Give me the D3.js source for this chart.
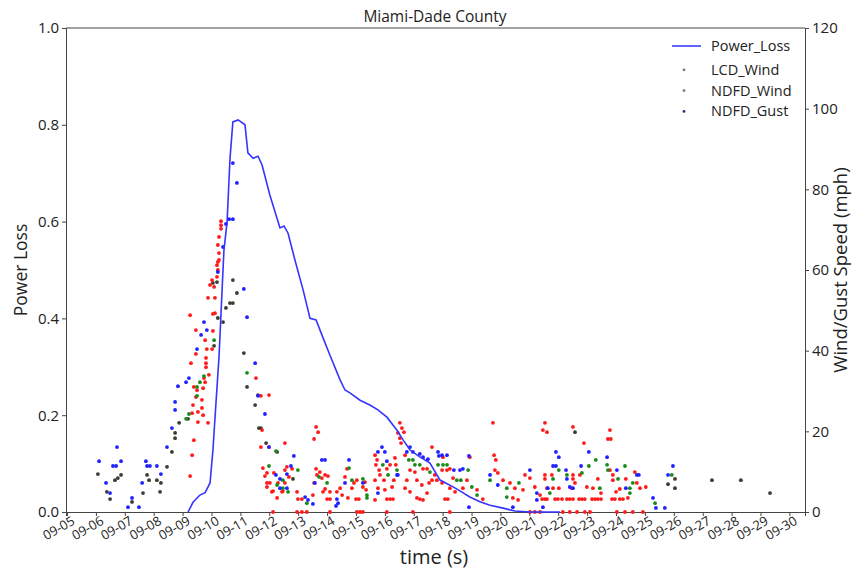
<!DOCTYPE html>
<html>
<head>
<meta charset="utf-8">
<script src="https://cdn.jsdelivr.net/npm/d3@7"></script>
<style>
  body { margin: 0; background: #fff; }
  text { font-family: "Open Sans", "DejaVu Sans", sans-serif; fill: #222; }
</style>
</head>
<body>
<div class="canvas"></div>
<script>
// time values are day-of-September 2017 (fractional), speeds in mph

// power loss curve
const lossTime = [4.19, 4.36, 4.60, 4.78, 4.95, 5.05, 5.16, 5.26, 5.36, 5.43, 5.54, 5.64, 5.74, 5.92, 6.16, 6.26, 6.44, 6.61, 6.75, 7.02, 7.37, 7.51, 7.65, 7.89, 8.17, 8.41, 8.62, 8.82, 9.10, 9.45, 9.62, 9.79, 10.14, 10.48, 10.76, 11.07, 11.42, 11.63, 11.87, 12.21, 12.56, 12.91, 13.36, 13.67, 13.94, 14.29, 14.64, 15.09, 15.50, 16.02, 17.06]
  .map(d => d + 5);
const lossValue = [0, 0.02, 0.035, 0.04, 0.06, 0.128, 0.23, 0.32, 0.45, 0.54, 0.60, 0.73, 0.806, 0.81, 0.80, 0.742, 0.731, 0.735, 0.717, 0.655, 0.587, 0.591, 0.576, 0.52, 0.459, 0.40, 0.397, 0.366, 0.324, 0.273, 0.252, 0.246, 0.231, 0.221, 0.211, 0.196, 0.169, 0.149, 0.128, 0.114, 0.101, 0.066, 0.052, 0.041, 0.031, 0.021, 0.014, 0.008, 0.002, 0, 0];

// LCD wind (hourly)
const lcdWind = [
  [9.29,36.9],[9.26,48.8],[9.26,8.9],[9.33,14.1],[9.39,17.8],[9.46,45.1],[9.46,39.2],[9.78,42.6],[9.84,40.4],[10.02,40.4],
  [10.05,44.9],[10.12,49.3],[9.81,38.2],[9.81,36.9],[9.81,35.9],[9.91,34.0],[9.74,33.2],[9.39,31.0],[9.50,30.2],[9.46,28.5],
  [9.78,32.2],[9.71,30.7],[9.36,26.5],[9.33,24.5],[9.53,24.8],[9.67,25.8],[9.71,24.0],[9.53,22.3],[9.88,22.1],[9.67,27.8],
  [10.09,55.8],[10.19,58.3],[10.22,60.0],[10.19,61.2],[10.26,62.5],[10.26,64.2],[9.95,56.3],[10.02,57.5],[10.12,53.1],[10.05,49.1],
  [9.88,53.1],[10.33,72.1],[10.33,71.1],[10.33,70.2],[10.26,68.2],[10.22,66.2],[10.22,62.0],
  [11.54,33.2],[11.71,28.8],[11.71,16.1],[11.99,16.1],[12.54,17.1],[11.99,29.0],[11.75,20.3],[11.78,10.9],[11.92,9.7],[12.16,9.7],
  [12.54,10.4],[12.61,11.2],[11.92,7.2],[12.02,7.2],[12.30,7.2],[12.13,5.2],[12.47,5.2],[12.27,3.5],[12.68,8.7],[11.85,8.9],
  [12.79,10.7],[12.54,7.2],[11.92,6.2],[12.09,5.0],[12.44,5.0],[12.96,5.0],[12.99,3.2],[13.13,3.2],
  [13.62,21.1],[13.69,19.8],[13.55,18.1],[13.62,10.7],[13.75,9.9],[13.65,9.2],[13.82,8.4],[13.93,9.2],[14.03,8.9],[13.55,7.2],
  [13.93,5.7],[13.86,5.0],[14.10,5.0],[13.51,4.2],[14.00,3.2],[14.10,3.2],[14.45,5.9],[14.34,5.0],[14.52,4.2],[14.62,8.7],
  [14.69,10.7],[14.93,7.2],[14.86,5.9],[14.72,3.5],[15.00,3.2],[15.10,3.2],[15.31,7.4],[15.24,6.2],[15.35,5.5],[15.03,7.9],
  [15.66,14.1],[15.73,12.9],[15.69,11.7],[15.80,10.4],[15.83,9.2],[15.66,7.9],[15.97,7.9],[16.07,10.7],[16.18,11.7],[16.35,13.4],
  [16.38,11.7],[16.31,7.9],[16.25,6.2],[16.00,5.5],[15.76,5.9],[16.07,3.2],[16.18,3.2],[16.28,3.2],[15.66,3.0],
  [16.52,22.1],[16.59,20.8],[16.66,19.8],[16.45,19.6],[16.52,18.3],[16.56,17.1],[16.70,14.1],[16.87,10.4],[17.04,9.9],[17.32,10.7],
  [17.46,10.7],[16.76,7.9],[17.11,7.9],[17.63,7.9],[16.70,5.9],[16.87,5.0],[17.28,6.7],[17.53,7.2],[17.46,4.7],[17.11,3.5],
  [17.21,3.2],[17.32,3.0],[17.73,9.2],[17.63,16.1],[18.01,13.6],[17.98,10.4],[18.15,10.4],[18.25,10.7],[17.80,7.9],[17.98,7.2],
  [18.36,8.4],[18.25,5.9],[18.43,5.0],[18.08,3.2],[18.18,3.2],[18.94,13.6],[18.84,7.9],[19.19,5.5],[19.39,3.2],[18.70,5.9],
  [19.74,22.1],[19.78,14.1],[19.84,12.9],[19.81,10.4],[19.91,9.7],[20.09,7.9],[20.33,7.2],[20.50,5.9],[20.78,5.5],[21.02,8.4],
  [20.85,9.2],[21.19,6.2],[21.37,4.2],[21.54,3.2],[21.47,20.3],[21.54,22.1],[21.61,19.8],[20.43,3.5],[20.61,3.0],
  [22.51,21.1],[23.79,20.3],[23.72,18.1],[23.82,18.1],[22.89,17.1],[23.79,10.4],[23.89,9.2],[24.65,9.9],[21.54,9.2],[21.78,9.2],
  [21.54,8.2],[22.51,9.2],[22.51,8.2],[22.75,9.2],[22.58,7.2],[22.47,5.9],[22.99,6.2],[23.20,5.9],[23.37,8.2],[23.89,7.9],
  [24.34,8.2],[24.72,7.2],[24.83,5.9],[25.03,6.2],[24.13,5.7],[24.00,5.0],[23.48,4.7],[24.41,3.5],[22.02,5.9],[21.82,5.9],[21.61,5.9],
  [21.44,3.2],[21.61,3.2],[21.89,3.2],[21.99,3.2],[22.13,3.2],[22.30,3.2],[22.40,3.2],[22.51,3.2],[22.72,3.2],[22.82,3.2],
  [22.92,3.2],[23.17,3.2],[23.27,3.2],[23.37,3.2],[23.48,3.2],[23.86,3.2],[23.96,3.2],[24.13,3.2],[24.24,3.2],
  [12.13,0],[12.96,0],[13.13,0],[13.30,0],[14.10,0],[15.03,0],[15.14,0],[15.24,0],[16.07,0],[16.97,0],[18.25,0],[21.02,0],
  [21.19,0],[21.37,0],[22.16,0],[22.40,0],[22.65,0],[22.92,0],[23.10,0],[24.03,0],[24.31,0],[24.58,0],[24.93,0]
];

// NDFD wind forecast
const ndfdWind = [
  [9.12,23.1],[9.22,24.3],[9.50,31.0],[9.60,32.2],[9.74,33.7],[9.50,28.8],[10.09,42.6],[11.23,34.5],[12.23,15.1],[11.99,11.4],
  [12.99,10.4],[12.47,5.9],[12.65,5.0],[13.30,2.2],[12.27,6.7],[12.47,7.9],[13.72,8.7],[14.00,7.2],[14.76,10.9],[14.86,7.9],
  [15.24,8.2],[15.38,4.2],[15.38,3.5],[15.93,11.7],[16.11,9.2],[16.42,10.4],[16.83,12.9],[16.97,12.9],[17.04,11.7],[17.21,11.7],
  [17.56,9.9],[17.84,11.7],[18.01,11.7],[18.15,11.7],[18.49,7.9],[18.63,7.9],[18.88,10.4],[19.01,6.2],[19.19,4.2],[19.64,7.9],
  [20.22,5.9],[20.64,7.2],[20.22,3.7],[22.02,10.4],[23.30,12.9],[23.06,11.4],[23.69,11.7],[23.72,10.4],[24.31,11.4],[24.07,8.2],
  [21.82,8.2],[22.30,9.2],[22.82,9.7],[23.44,5.9],[24.48,5.9],[24.58,7.2],[24.48,4.7],[21.71,4.7],[25.35,2.2],[25.93,9.2]
];

// NDFD gust forecast
const ndfdGust = [
  [6.73,16.1],[6.11,12.6],[6.59,11.4],[6.70,11.4],[6.87,12.6],[6.35,7.2],[6.49,4.7],[7.25,3.5],[7.11,1.2],[7.49,1.2],
  [7.73,12.6],[7.77,11.4],[7.87,11.4],[8.11,11.4],[7.60,7.2],[8.25,9.4],[8.46,16.1],[8.63,20.8],[8.74,25.3],[8.74,27.3],
  [8.84,31.2],[9.12,32.2],[9.22,33.2],[9.50,40.4],[9.74,47.1],[9.84,45.1],[9.64,43.9],[10.22,59.5],[10.40,65.7],[10.50,71.4],
  [10.61,72.6],[10.74,72.6],[10.74,86.5],[10.88,81.6],[11.12,55.3],[11.23,48.3],[11.51,36.9],[11.61,28.8],[11.85,24.3],[12.23,9.2],
  [12.37,5.9],[12.61,5.9],[11.99,16.1],[12.85,13.9],[12.75,11.4],[12.61,9.4],[12.37,8.2],[13.24,3.7],[13.34,3.0],[13.51,2.0],
  [13.82,12.9],[13.93,12.9],[13.58,7.2],[14.34,3.2],[14.38,2.2],[14.31,1.5],[14.76,12.9],[14.62,7.2],[15.24,7.2],[15.76,14.9],
  [15.90,16.1],[16.00,14.9],[16.07,12.6],[16.42,9.2],[16.45,9.2],[15.76,4.7],[16.87,16.1],[16.76,14.9],[16.97,14.9],[17.21,14.4],
  [17.32,13.6],[17.49,13.1],[17.84,14.9],[17.98,14.1],[18.15,14.1],[17.87,13.9],[18.39,10.4],[18.60,10.4],[18.70,10.7],[18.91,13.9],
  [18.91,1.2],[19.64,9.2],[19.91,6.7],[21.02,10.4],[21.26,4.7],[21.47,1.2],[21.26,3.0],[20.43,1.2],[21.92,14.9],[22.02,13.6],
  [23.06,14.9],[23.69,13.6],[21.82,11.4],[21.92,11.4],[22.79,11.4],[24.03,10.4],[24.72,9.2],[24.79,9.2],[22.27,10.4],[22.30,8.2],
  [22.40,6.2],[22.51,5.9],[24.34,5.9],[21.64,5.9],[25.28,3.5],[25.38,1.0],[25.69,1.0],[25.97,11.4],[25.80,9.2]
];

// darker points (early / late period)
const otherWind = [
  [6.07,9.4],[6.66,7.9],[6.76,8.4],[6.87,9.2],[6.38,5.0],[6.49,3.2],[7.25,2.5],[7.77,9.2],[7.84,7.9],[8.11,7.9],
  [7.63,4.7],[8.22,5.0],[8.46,11.2],[8.25,7.2],[8.63,14.9],[8.74,19.6],[8.74,18.3],[8.88,22.1],[9.19,23.1],[10.09,41.2],
  [10.22,48.1],[10.19,57.0],[10.05,56.8],[10.74,57.5],[10.88,54.3],[10.64,51.8],[10.74,51.8],[10.50,50.6],[10.40,47.1],[11.12,39.4],
  [11.23,31.0],[11.51,26.5],[11.64,20.8],[11.71,20.8],[11.89,17.1],[12.27,14.9],[11.61,29.0],[12.82,8.2],[22.58,19.8],[26.04,8.2],
  [25.80,6.9],[26.04,5.9],[27.32,7.9],[28.32,7.9],[29.33,4.7]
];

const tickDays = d3.range(5, 31);
const lossTicks = [0, 0.2, 0.4, 0.6, 0.8, 1.0];
const speedTicks = [0, 20, 40, 60, 80, 100, 120];
const legendNames = ["Power_Loss", "LCD_Wind", "NDFD_Wind", "NDFD_Gust"];

const width = 861, height = 572;
const margin = {top: 28, right: 56, bottom: 60, left: 66};
const graphWidth = width - margin.left - margin.right;
const graphHeight = height - margin.top - margin.bottom;

const toDate = d => new Date(2017, 8, 1, 0, 0) .getTime() + (d - 1) * 864e5;

const svg = d3.select(".canvas").append("svg")
  .attr("width", width)
  .attr("height", height);

const graph = svg.append("g")
  .attr("transform", `translate(${margin.left}, ${margin.top})`);

const scaleX = d3.scaleTime()
  .domain([toDate(4.965), toDate(30.54)])
  .range([0, graphWidth]);
const scaleY = d3.scaleLinear().domain([0, 1]).range([graphHeight, 0]);
const scaleY2 = d3.scaleLinear().domain([0, 120]).range([graphHeight, 0]);

//axes
const xAxis = d3.axisBottom(scaleX)
  .tickValues(tickDays.map(d => new Date(toDate(d))))
  .tickFormat(d3.timeFormat("%m-%d"))
  .tickSize(4);
const yAxis = d3.axisLeft(scaleY).tickValues(lossTicks).tickFormat(d3.format(".1f")).tickSize(4);
const yAxis2 = d3.axisRight(scaleY2).tickValues(speedTicks).tickSize(4);

const xg = graph.append("g")
  .attr("transform", `translate(0, ${graphHeight})`)
  .call(xAxis);
xg.selectAll("text")
  .attr("font-size", 13)
  .attr("text-anchor", "end")
  .attr("dx", "0.1em")
  .attr("dy", "0.55em")
  .attr("transform", "rotate(-30)");

const yg = graph.append("g").call(yAxis);
yg.selectAll("text").attr("font-size", 15);

const yg2 = graph.append("g")
  .attr("transform", `translate(${graphWidth}, 0)`)
  .call(yAxis2);
yg2.selectAll("text").attr("font-size", 15);

svg.selectAll(".domain, .tick line").attr("stroke", "#444");

// top frame line
graph.append("line")
  .attr("x1", 0).attr("x2", graphWidth)
  .attr("y1", 0).attr("y2", 0)
  .attr("stroke", "#444");

//scatter series
const dotSeries = [
  {data: otherWind, color: "#3b3b2e"},
  {data: lcdWind, color: "#ff1a1a"},
  {data: ndfdWind, color: "#1a8a1a"},
  {data: ndfdGust, color: "#1f1fff"}
];

dotSeries.forEach(s => {
  graph.append("g").selectAll("circle")
    .data(s.data)
    .enter()
    .append("circle")
    .attr("cx", d => scaleX(toDate(d[0])))
    .attr("cy", d => scaleY2(d[1]))
    .attr("r", 1.9)
    .style("fill", s.color);
});

//power loss line
const line = d3.line()
  .x((d, i) => scaleX(toDate(d)))
  .y((d, i) => scaleY(lossValue[i]));

graph.append("path")
  .datum(lossTime)
  .attr("d", line)
  .attr("fill", "none")
  .attr("stroke", "#3535ff")
  .attr("stroke-width", 1.6);

//titles
svg.append("text")
  .attr("x", 435).attr("y", 22)
  .attr("text-anchor", "middle")
  .attr("font-size", 15.5)
  .text("Miami-Dade County");

svg.append("text")
  .attr("x", 434).attr("y", 564)
  .attr("text-anchor", "middle")
  .attr("font-size", 20)
  .text("time (s)");

svg.append("text")
  .attr("transform", "translate(27, 270) rotate(-90)")
  .attr("text-anchor", "middle")
  .attr("font-size", 17.5)
  .text("Power Loss");

svg.append("text")
  .attr("transform", "translate(847, 270) rotate(-90)")
  .attr("text-anchor", "middle")
  .attr("font-size", 18.5)
  .text("Wind/Gust Speed (mph)");

//legend
const legend = svg.append("g").attr("transform", "translate(670, 46)");
legend.append("line")
  .attr("x1", 2).attr("x2", 31)
  .attr("y1", 0).attr("y2", 0)
  .attr("stroke", "#3a3aff")
  .attr("stroke-width", 1.6);
const legendDots = ["#777", "#777", "#2a2a90"];
legendNames.forEach((name, i) => {
  const y = i === 0 ? 0 : 3 + i * 20.8;
  legend.append("text")
    .attr("x", 41).attr("y", y)
    .attr("dy", "0.35em")
    .attr("font-size", 14.5)
    .text(name);
  if (i > 0) {
    legend.append("circle")
      .attr("cx", 14).attr("cy", y)
      .attr("r", 1.4)
      .style("fill", legendDots[i - 1]);
  }
});
</script>
</body>
</html>
